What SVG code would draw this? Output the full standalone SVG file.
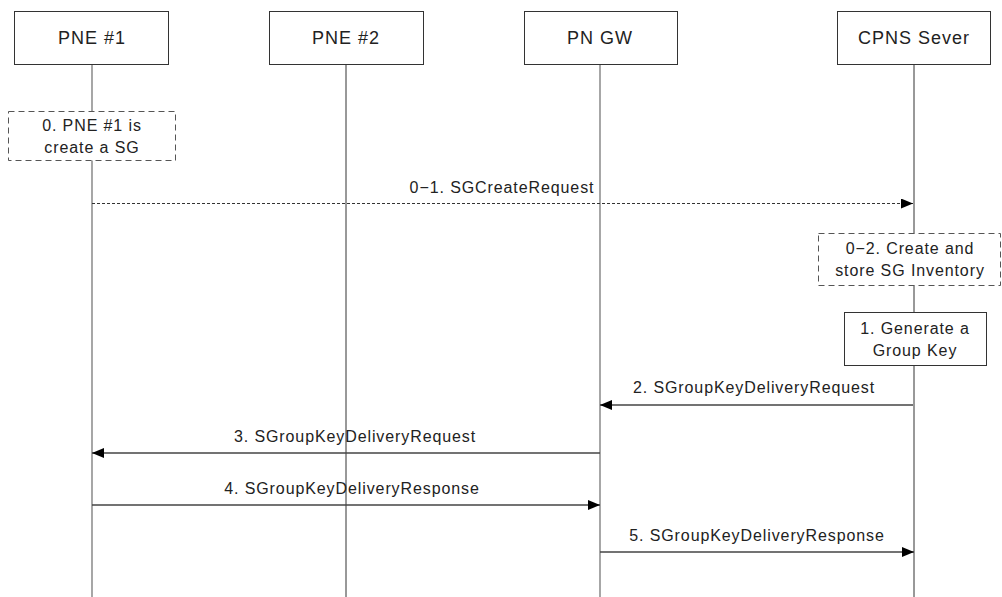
<svg xmlns="http://www.w3.org/2000/svg" width="1002" height="597" viewBox="0 0 1002 597">
<style>
text{font-family:"Liberation Sans",Arial,sans-serif;font-size:16px;letter-spacing:0.9px;fill:#222;text-anchor:middle}
.hd{font-size:18px;letter-spacing:1px}
.box{fill:#fff;stroke:#333;stroke-width:1}
.dbox{fill:#fff;stroke:#555;stroke-width:1;stroke-dasharray:6,4}
.life{stroke:#333;stroke-width:1}
.lifeg{stroke:#777;stroke-width:1.3}
.msg{stroke:#444;stroke-width:1.3;fill:none}
.dmsg{stroke:#333;stroke-width:1;stroke-dasharray:3,2;fill:none}
</style>
<defs>
<marker id="ah" viewBox="0 0 12 10" refX="12" refY="5" markerWidth="12" markerHeight="10" markerUnits="userSpaceOnUse" orient="auto">
<path d="M0,0 L12,5 L0,10 Z" fill="#000"/>
</marker>
</defs>
<g id="lifelines">
<line class="lifeg" x1="92" y1="64" x2="92" y2="597"/>
<line class="life" x1="346" y1="64" x2="346" y2="597"/>
<line class="lifeg" x1="600" y1="64" x2="600" y2="597"/>
<line class="life" x1="914" y1="64" x2="914" y2="597"/>
</g>
<g id="pne1"><rect class="box" x="14.5" y="11.5" width="154" height="53"/><text class="hd" x="92" y="44">PNE #1</text></g>
<g id="pne2"><rect class="box" x="269.5" y="11.5" width="154" height="53"/><text class="hd" x="346" y="44">PNE #2</text></g>
<g id="pngw"><rect class="box" x="524.5" y="11.5" width="153" height="53"/><text class="hd" x="600" y="44">PN GW</text></g>
<g id="cpns"><rect class="box" x="837.5" y="11.5" width="153" height="53"/><text class="hd" x="914" y="44">CPNS Sever</text></g>
<g id="step0"><rect class="dbox" x="8.5" y="111.5" width="167" height="49"/><text x="92" y="131">0. PNE #1 is</text><text x="92" y="153">create a SG</text></g>
<g id="step02"><rect class="dbox" x="818.5" y="233.5" width="182" height="52"/><text x="910" y="254">0−2. Create and</text><text x="910" y="276">store SG Inventory</text></g>
<g id="step1"><rect class="box" x="844.5" y="312.5" width="142" height="53"/><text x="915" y="334">1. Generate a</text><text x="915" y="356">Group Key</text></g>
<g id="connectors">
<line class="dmsg" x1="92" y1="203.5" x2="913" y2="203.5" marker-end="url(#ah)"/>
<text x="502" y="193">0−1. SGCreateRequest</text>
<line class="msg" x1="913" y1="405" x2="600" y2="405" marker-end="url(#ah)"/>
<text x="754" y="393">2. SGroupKeyDeliveryRequest</text>
<line class="msg" x1="600" y1="453" x2="92" y2="453" marker-end="url(#ah)"/>
<text x="355" y="442">3. SGroupKeyDeliveryRequest</text>
<line class="msg" x1="92" y1="505" x2="600" y2="505" marker-end="url(#ah)"/>
<text x="352" y="494">4. SGroupKeyDeliveryResponse</text>
<line class="msg" x1="600" y1="552" x2="914" y2="552" marker-end="url(#ah)"/>
<text x="757" y="541">5. SGroupKeyDeliveryResponse</text>
</g>
</svg>
